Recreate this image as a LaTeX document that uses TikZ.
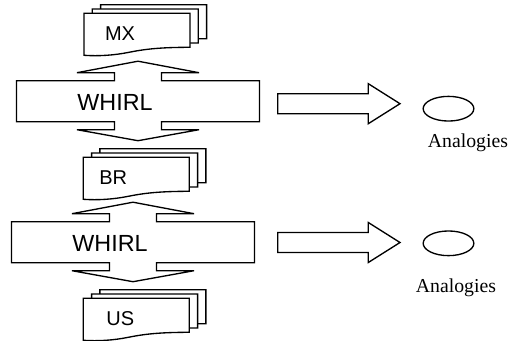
\documentclass[tikz,border=0pt]{standalone}
\usepackage{fontspec}
\setmainfont{Liberation Serif}
\setsansfont{Liberation Sans}
\usetikzlibrary{shapes.geometric,positioning}

\tikzset{
  outline/.style={draw=black,line width=1pt,fill=white,line join=miter},
  doctext/.style={font=\sffamily\fontsize{15}{15}\selectfont,inner sep=0pt},
  whirltext/.style={font=\sffamily\fontsize{17.5}{17.5}\selectfont,inner sep=0pt},
  analogy/.style={ellipse,draw,line width=1pt,minimum width=38pt,minimum height=18.5pt,inner sep=0pt},
  analabel/.style={font=\fontsize{14.8}{14.8}\selectfont,inner sep=0pt},
}

\begin{document}
\begin{tikzpicture}[x=0.75pt,y=-0.75pt]
  \useasboundingbox (0,0) rectangle (511,340);
  \clip (0,0) rectangle (511,340);
  % stacks of documents (back sheet first)
  \foreach \nm/\px/\py/\dx/\txt in {mx/84/13.3/36/MX, br/83.3/157.3/30/BR, us/83.3/298.3/37/US}{
    \foreach \k in {2,1,0}
      \draw[outline,shift={({\px+8.3*\k},{\py-4.3*\k})}]
        (0,0) -- (106,0) -- (106,34) .. controls (75,34) and (60,36) .. (45,39)
        .. controls (30,42) and (15,43) .. (0,42) -- cycle;
    \node[doctext] (\nm) at ({\px+\dx},{\py+20.3}) {\txt};
  }
  % WHIRL boxes with the up/down arrows
  \foreach \nm/\cx/\ty in {whirl1/138/80.7, whirl2/133/221.7}{
    \draw[outline,shift={(\cx,\ty)}]
      (0,-19.5) -- (61,-8) -- (23.5,-8) -- (23.5,0) -- (121.5,0) -- (121.5,41)
      -- (23.5,41) -- (23.5,49) -- (61,49) -- (0,60) -- (-61,49) -- (-23.5,49)
      -- (-23.5,41) -- (-121.5,41) -- (-121.5,0) -- (-23.5,0) -- (-23.5,-8)
      -- (-61,-8) -- cycle;
    \node[whirltext] (\nm) at ({\cx-23},{\ty+21.5}) {WHIRL};
  }
  % the analogies
  \node[analogy] (ana1) at (448.5,108.7) {};
  \node[analabel] (lab1) [below=9pt of ana1,xshift=14.6pt] {Analogies};
  \node[analogy] (ana2) at (448.5,243.3) {};
  \node[analabel] (lab2) [below=16.5pt of ana2,xshift=5.6pt] {Analogies};
  % block arrows towards them
  \foreach \cy in {103.7,242.5}
    \draw[outline] (277.7,\cy) ++(0,-10) -- ++(90.6,0) -- ++(0,-10) -- ++(31.7,20)
      -- ++(-31.7,20) -- ++(0,-10) -- ++(-90.6,0) -- cycle;
\end{tikzpicture}
\end{document}
